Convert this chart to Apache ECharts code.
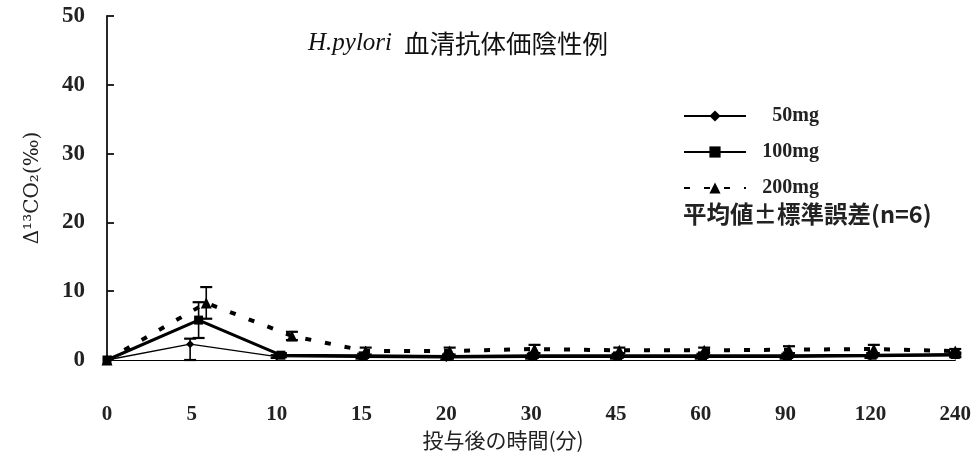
<!DOCTYPE html>
<html>
<head>
<meta charset="utf-8">
<script src="https://cdn.jsdelivr.net/npm/echarts@6/dist/echarts.min.js"></script>
<style>html,body{margin:0;padding:0;background:#fff}#c{width:974px;height:470px}</style>
</head>
<body>
<div id="c"></div>
<script>
// tick labels (minutes after dosing), equally spaced categories
const timeLabels = ['0','5','10','15','20','30','45','60','90','120','240'];
const yTicks = [0, 10, 20, 30, 40, 50];
// category position of each point (small horizontal offsets)
const pos50  = [0, 0.98, 2.00, 3.00, 4.00, 5.00, 6.00, 7.00, 8.00, 9.00, 10];
const pos100 = [0, 1.08, 2.05, 3.02, 4.02, 5.02, 6.02, 7.02, 8.02, 9.02, 10];
const pos200 = [0, 1.17, 2.18, 3.05, 4.04, 5.04, 6.04, 7.04, 8.04, 9.04, 10];
// mean values Δ13CO2 (‰)
const val50  = [0, 2.3, 0.5, 0.4, 0.3, 0.4, 0.4, 0.4, 0.4, 0.5, 0.6];
const val100 = [0, 5.8, 0.7, 0.6, 0.5, 0.6, 0.6, 0.6, 0.6, 0.7, 0.8];
const val200 = [0, 8.3, 3.5, 1.3, 1.3, 1.6, 1.4, 1.4, 1.5, 1.6, 1.3];
// standard error (up / down)
const up50   = [0, 0.8, 0.2, 0.2, 0.2, 0.2, 0.2, 0.2, 0.2, 0.2, 0.2];
const down50 = [0, 2.3, 0.2, 0.2, 0.2, 0.2, 0.2, 0.2, 0.2, 0.2, 0.2];
const up100  = [0, 2.6, 0.3, 0.3, 0.3, 0.3, 0.3, 0.3, 0.3, 0.3, 0.3];
const down100= [0, 2.6, 0.3, 0.3, 0.3, 0.3, 0.3, 0.3, 0.3, 0.3, 0.3];
const up200  = [0, 2.3, 0.6, 0.5, 0.5, 0.6, 0.4, 0.4, 0.5, 0.6, 0.3];
const down200= [0, 2.3, 0.6, 0.5, 0.5, 0.6, 0.4, 0.4, 0.5, 0.6, 0.3];

const seriesNames = ['50mg', '100mg', '200mg'];

function pts(pos, val) { return pos.map((p, i) => [p, val[i]]); }
function errSeries(pos, val, up, down) {
  return {
    type: 'custom', silent: true, z: 4,
    data: pos.map((p, i) => [p, val[i] - down[i], val[i] + up[i]]),
    encode: { x: 0, y: [1, 2] },
    renderItem: function (params, api) {
      const lo = api.coord([api.value(0), api.value(1)]);
      const hi = api.coord([api.value(0), api.value(2)]);
      if (Math.abs(hi[1] - lo[1]) < 0.5) return null;
      const w = 6, st = { stroke: '#000', lineWidth: 1.6 };
      return { type: 'group', children: [
        { type: 'line', shape: { x1: hi[0], y1: hi[1], x2: lo[0], y2: lo[1] }, style: st },
        { type: 'line', shape: { x1: hi[0] - w, y1: hi[1], x2: hi[0] + w, y2: hi[1] }, style: { stroke: '#000', lineWidth: 2.2 } },
        { type: 'line', shape: { x1: lo[0] - w, y1: lo[1], x2: lo[0] + w, y2: lo[1] }, style: { stroke: '#000', lineWidth: 2.2 } }
      ]};
    }
  };
}

const serifNum = { fontFamily: 'Liberation Serif', fontWeight: 'bold', color: '#222' };

const chart = echarts.init(document.getElementById('c'), null, { renderer: 'canvas' });
chart.setOption({
  animation: false,
  backgroundColor: '#fff',
  title: {
    left: 308, top: 31, padding: 0,
    text: '{i|H.pylori}{s| }{c|血清抗体価陰性例}',
    textStyle: {
      fontWeight: 'normal',
      rich: {
        i: { fontFamily: 'Liberation Serif', fontStyle: 'italic', fontWeight: 'normal', fontSize: 25, color: '#111' },
        s: { fontSize: 25, width: 12 },
        c: { fontFamily: 'Noto Sans CJK JP', fontWeight: 'normal', fontSize: 25.5, color: '#111' }
      }
    }
  },
  legend: {
    left: 683, top: 106, orient: 'vertical', padding: 0,
    itemWidth: 62, itemHeight: 14, itemGap: 16,
    data: seriesNames,
    formatter: n => '{t|' + n + '}',
    textStyle: {
      rich: { t: Object.assign({ fontSize: 20, lineHeight: 22, width: 68, align: 'right' }, serifNum) }
    }
  },
  graphic: [{
    type: 'text', left: 683, top: 202,
    style: { text: '平均値±標準誤差(n=6)', font: 'bold 23.5px "Noto Sans CJK JP"', fill: '#222' }
  }],
  grid: { left: 107, right: 15, top: 16, bottom: 110 },
  xAxis: {
    type: 'value', min: 0, max: 10, interval: 1,
    axisLine: { show: true, lineStyle: { color: '#000', width: 1.2 } },
    axisTick: { show: false },
    splitLine: { show: false },
    axisLabel: Object.assign({ fontSize: 21, margin: 44, formatter: v => timeLabels[v] }, serifNum),
    name: '投与後の時間(分)', nameLocation: 'middle', nameGap: 68,
    nameTextStyle: { fontFamily: 'Noto Sans CJK JP', fontSize: 21, color: '#222', padding: [0, 56, 0, 0] }
  },
  yAxis: {
    type: 'value', min: yTicks[0], max: yTicks[yTicks.length - 1], interval: 10,
    axisLine: { show: true, lineStyle: { color: '#111', width: 1.8 } },
    axisTick: { show: true, inside: true, length: 7, lineStyle: { color: '#111', width: 1.8 } },
    splitLine: { show: false },
    axisLabel: Object.assign({ fontSize: 23, margin: 22 }, serifNum),
    name: 'Δ¹³CO₂(‰)', nameLocation: 'middle', nameGap: 64,
    nameTextStyle: { fontFamily: 'DejaVu Serif', fontSize: 20, color: '#222' }
  },
  series: [
    { name: '50mg', type: 'line', data: pts(pos50, val50), symbol: 'diamond', symbolSize: 8, z: 3,
      lineStyle: { color: '#000', width: 1.3 }, itemStyle: { color: '#000' } },
    { name: '100mg', type: 'line', data: pts(pos100, val100), symbol: 'rect', symbolSize: 9, z: 3,
      lineStyle: { color: '#000', width: 3 }, itemStyle: { color: '#000' } },
    { name: '200mg', type: 'line', data: pts(pos200, val200), symbol: 'triangle', symbolSize: 11, z: 3,
      lineStyle: { color: '#000', width: 4, type: [6, 14] }, itemStyle: { color: '#000' } },
    errSeries(pos50, val50, up50, down50),
    errSeries(pos100, val100, up100, down100),
    errSeries(pos200, val200, up200, down200)
  ]
});
</script>
</body>
</html>
